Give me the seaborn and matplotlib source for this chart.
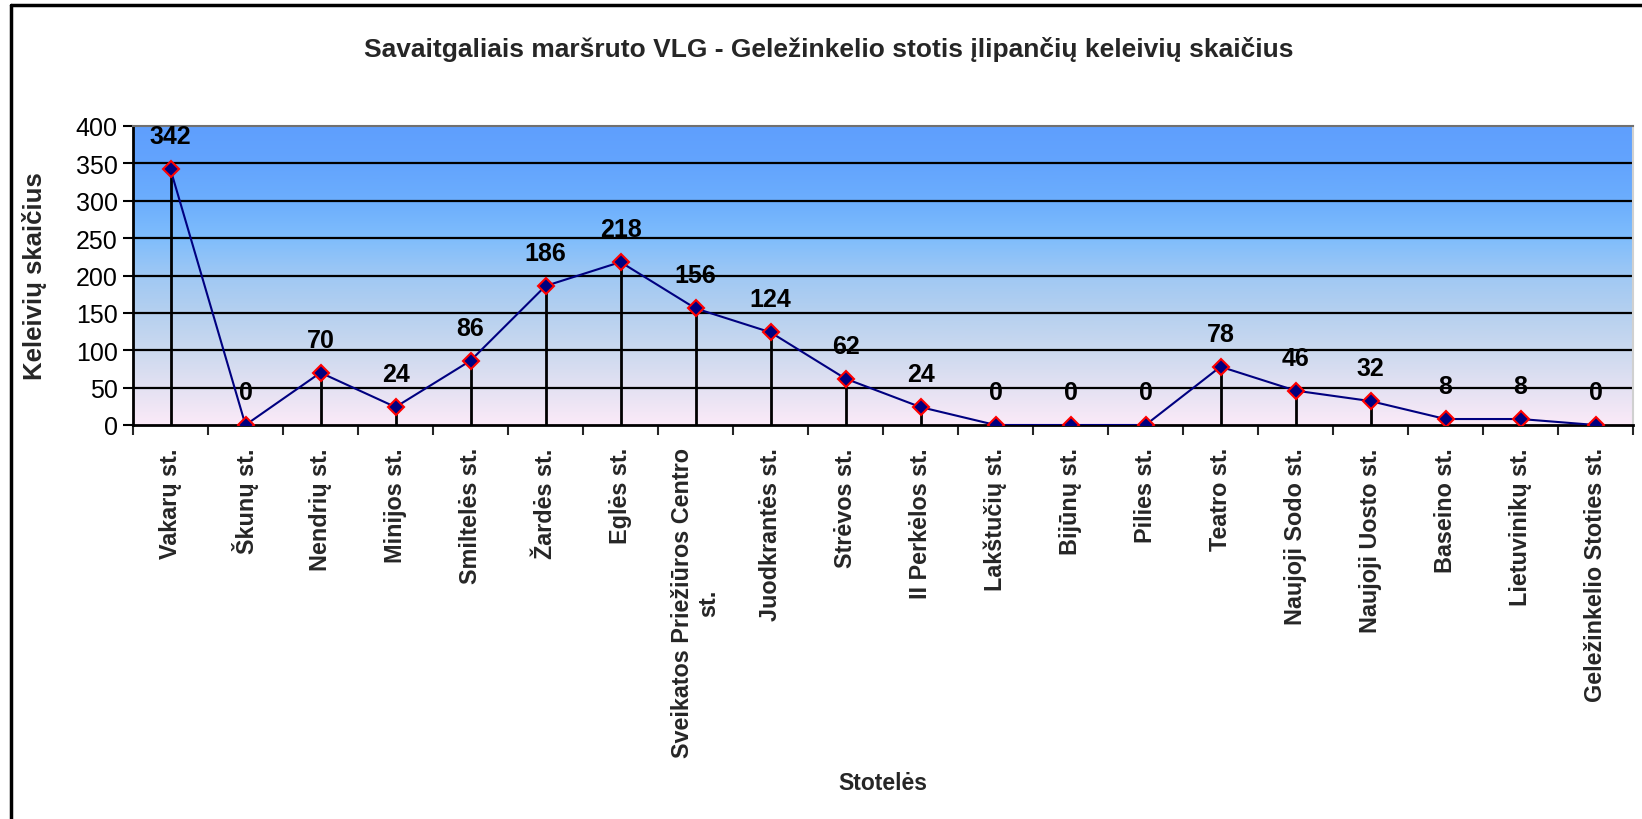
import numpy as np
import pandas as pd
import matplotlib
matplotlib.use('Agg')
import matplotlib.pyplot as plt
from matplotlib.colors import LinearSegmentedColormap
from matplotlib.lines import Line2D
import seaborn as sns

stops = ['Vakarų st.', 'Škunų st.', 'Nendrių st.', 'Minijos st.', 'Smiltelės st.',
         'Žardės st.', 'Eglės st.', 'Sveikatos Priežiūros Centro\nst.', 'Juodkrantės st.',
         'Strėvos st.', 'II Perkėlos st.', 'Lakštučių st.', 'Bijūnų st.', 'Pilies st.',
         'Teatro st.', 'Naujoji Sodo st.', 'Naujoji Uosto st.', 'Baseino st.',
         'Lietuvinikų st.', 'Geležinkelio Stoties st.']
passengers = [342, 0, 70, 24, 86, 186, 218, 156, 124, 62, 24, 0, 0, 0, 78, 46, 32, 8, 8, 0]
y_ticks = [0, 50, 100, 150, 200, 250, 300, 350, 400]

# background gradient, bottom -> top
bg_colors = ['#fbeaf8', '#e3e1f2', '#cbd9ef', '#b5d0ef', '#9fc8f4', '#7fbdfc', '#6caefd', '#63a4fd', '#5f9ffe']


def main():
    sns.set_theme(style='white')
    plt.rcParams['font.family'] = ['Liberation Sans', 'DejaVu Sans']

    df = pd.DataFrame({'pos': np.arange(len(stops)), 'count': passengers})

    fig = plt.figure(figsize=(16.42, 8.2), dpi=100)
    ax = fig.add_axes([133 / 1642, 394 / 820, 1500 / 1642, 299 / 820])

    cmap = LinearSegmentedColormap.from_list('bg', bg_colors)
    grad = np.linspace(0, 1, 256).reshape(-1, 1)
    ax.imshow(grad, cmap=cmap, origin='lower', aspect='auto',
              extent=[-0.5, len(stops) - 0.5, 0, 400], zorder=0)

    for y in y_ticks[1:-1]:
        ax.axhline(y, color='black', lw=1.6, zorder=1)

    # drop lines
    ax.vlines(df['pos'], 0, df['count'], color='black', lw=2, zorder=2)

    sns.lineplot(data=df, x='pos', y='count', ax=ax, color='#000080', lw=1.5,
                 marker='D', markersize=8, markerfacecolor='#000080',
                 markeredgecolor='red', markeredgewidth=1.5, zorder=3)

    for x, v in zip(df['pos'], df['count']):
        ax.annotate(str(v), (x, v), xytext=(0, 21), textcoords='offset pixels',
                    ha='center', va='bottom', fontsize=18, fontweight='bold', color='black')

    ax.set_xlim(-0.5, len(stops) - 0.5)
    ax.set_ylim(0, 400)
    ax.set_yticks(y_ticks)
    ax.tick_params(axis='y', labelsize=18, length=7, width=1.5, direction='out',
                   left=True, pad=4, colors='black')

    ax.set_xticks(np.arange(len(stops) + 1) - 0.5)
    ax.set_xticklabels([])
    ax.tick_params(axis='x', which='major', length=7, width=1.5, direction='out', bottom=True)
    ax.set_xticks(np.arange(len(stops)), minor=True)
    ax.set_xticklabels(stops, minor=True, rotation=90, fontsize=16.8, fontweight='bold',
                       ha='center', va='top', multialignment='center')
    ax.tick_params(axis='x', which='minor', length=0, pad=16)

    ax.set_xlabel('Stotelės', fontsize=16.5, fontweight='bold')
    ax.set_ylabel('Keleivių skaičius', fontsize=18.5, fontweight='bold')
    ax.xaxis.set_label_coords(0.5, -346 / 299, transform=ax.transAxes)
    ax.yaxis.set_label_coords(-86 / 1500, 0.5, transform=ax.transAxes)

    for side in ['left', 'bottom']:
        ax.spines[side].set_color('black')
        ax.spines[side].set_linewidth(2)
    ax.spines['top'].set_color('#707070')
    ax.spines['top'].set_linewidth(1.5)
    ax.spines['right'].set_color('#d0d0d0')
    ax.spines['right'].set_linewidth(1.5)

    fig.text(829 / 1642, 1 - 50 / 820,
             'Savaitgaliais maršruto VLG - Geležinkelio stotis įlipančių keleivių skaičius',
             ha='center', va='center', fontsize=19, fontweight='bold')

    # outer chart border (left and top visible)
    fig.add_artist(Line2D([11 / 1642, 11 / 1642], [0, 1 - 6 / 820], color='black', lw=2.5,
                          transform=fig.transFigure))
    fig.add_artist(Line2D([11 / 1642, 1], [1 - 6 / 820, 1 - 6 / 820], color='black', lw=2.5,
                          transform=fig.transFigure))

    fig.savefig('out.png', dpi=100, facecolor='white')


if __name__ == '__main__':
    main()
